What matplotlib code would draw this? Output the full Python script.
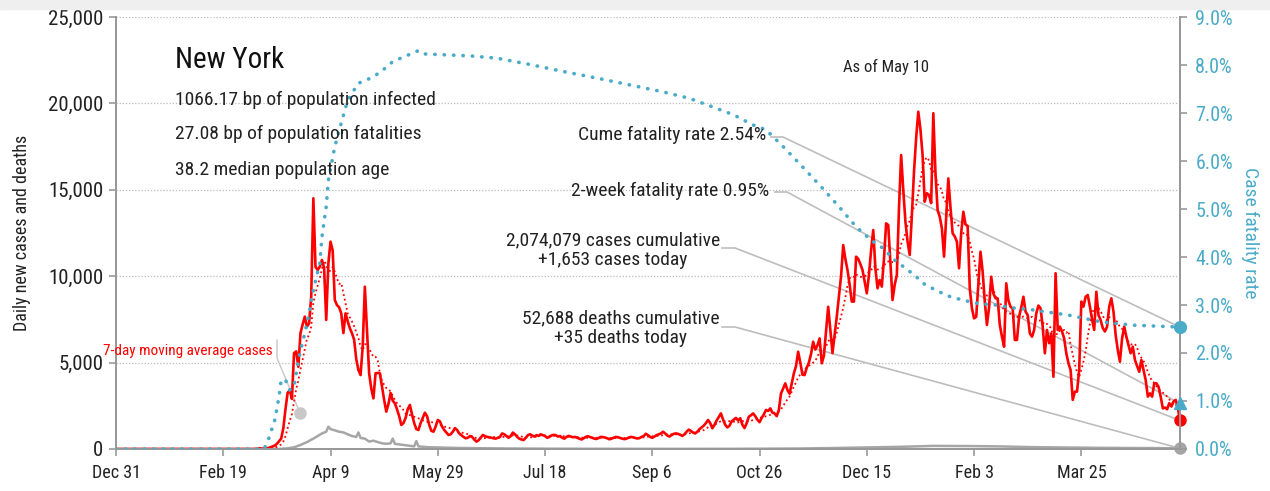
import matplotlib
matplotlib.use("Agg")
import matplotlib.pyplot as plt
import matplotlib.dates as mdates
import numpy as np
import pandas as pd
from matplotlib import font_manager
from matplotlib.patches import Rectangle


def pick_font(names):
    for n in names:
        try:
            font_manager.findfont(font_manager.FontProperties(family=n), fallback_to_default=False)
            return n
        except ValueError:
            pass
    return "DejaVu Sans"


FONT = pick_font(["Liberation Sans Narrow", "Roboto Condensed", "DejaVu Sans"])
plt.rcParams["font.family"] = [FONT, "DejaVu Sans"]

# ---- data ----
start_date = "2019-12-31"
last_date = "2021-05-10"

# daily new cases, Dec 31 2019 .. Feb 29 2020
cases_pre = [0, 0, 0, 0, 0, 0, 0, 0, 0, 0,
             0, 0, 0, 0, 0, 0, 0, 0, 0, 0,
             0, 0, 0, 0, 0, 0, 0, 0, 0, 0,
             0, 0, 0, 0, 0, 0, 0, 0, 0, 0,
             0, 0, 0, 0, 0, 0, 0, 0, 0, 0,
             0, 0, 0, 0, 0, 0, 0, 0, 0, 0,
             0]
cases_mar20 = [0, 0, 1, 0, 9, 11, 44, 13, 36, 40, 60, 100, 150, 200, 300, 450, 600, 1200, 2300, 3250,
               3400, 2900, 5550, 5650, 4760, 6710, 7200, 7660, 7080, 7270, 8810]
cases_apr20 = [14510, 10550, 10360, 10550, 10940, 10500, 7470, 10750, 12000, 11500,
               8620, 8330, 8200, 7850, 6710, 7850, 7400, 6990, 6700, 6330,
               5200, 4570, 4280, 5920, 9390, 6870, 4380, 3500, 2930, 4380]
cases_may20 = [4400, 4380, 3600, 2840, 2160, 2600, 3240, 2800, 2640, 2300,
               1900, 1390, 1500, 1800, 2300, 2550, 2000, 1500, 1150, 1100,
               1500, 1800, 2100, 1900, 1400, 1050, 1000, 1300, 1680, 1600, 1300]
cases_jun20 = [1100, 950, 810, 850, 1000, 1210, 1100, 900, 800, 700,
               620, 650, 750, 700, 550, 430, 500, 650, 810, 750,
               700, 680, 650, 620, 600, 650, 700, 900, 850, 750]
cases_jul20 = [650, 750, 950, 850, 700, 600, 550, 520, 650, 800,
               850, 780, 720, 800, 760, 850, 800, 750, 650, 700,
               780, 820, 800, 720, 750, 650, 600, 700, 760, 720, 680]
cases_aug20 = [700, 650, 600, 550, 620, 700, 740, 690, 650, 600,
               580, 640, 700, 690, 660, 620, 560, 600, 650, 700,
               680, 640, 600, 570, 600, 660, 700, 680, 640, 610, 630]
cases_sep20 = [700, 750, 880, 800, 700, 650, 720, 800, 850, 900,
               1000, 900, 780, 720, 800, 880, 900, 880, 820, 760,
               850, 1000, 1120, 1050, 950, 900, 1000, 1150, 1250, 1350]
cases_oct20 = [1500, 1680, 1500, 1200, 1400, 1650, 1850, 2060, 1700, 1400,
               1250, 1350, 1600, 1700, 1800, 1650, 1780, 1400, 1210, 1500,
               1870, 1950, 2060, 1900, 1700, 1550, 1800, 2000, 2260, 2200, 2350]
cases_nov20 = [2100, 2060, 1900, 2260, 3220, 3500, 3800, 3410, 3200, 3800,
               4380, 4800, 5630, 5000, 4300, 4280, 4700, 5000, 5500, 6210,
               5750, 6000, 6400, 4960, 5400, 6800, 8230, 6900, 5550, 6600]
cases_dec20 = [7660, 8810, 10000, 11800, 11000, 10360, 9500, 8530, 8530, 11130,
               11000, 10700, 10360, 9700, 9010, 10070, 11500, 12670, 10460, 9300,
               9780, 9400, 11000, 13060, 12960, 10840, 8620, 9500, 10070, 13930, 17010]
cases_jan21 = [15000, 13160, 12000, 11230, 13500, 16050, 18000, 19520, 18500, 17010,
               14310, 14800, 14700, 14230, 19430, 16000, 13830, 13440, 12770, 11130,
               13400, 15660, 14000, 12480, 12300, 12000, 10460, 12500, 13730, 13000, 12900]
cases_feb21 = [9300, 8140, 7560, 7650, 9500, 11420, 10270, 8530, 7180, 8200,
               9970, 9000, 8720, 8720, 7180, 6500, 5920, 9590, 8600, 8230,
               8130, 6310, 6310, 7660, 8200, 8810, 7950, 7750]
cases_mar21 = [6690, 6500, 6880, 7850, 8300, 8140, 7080, 5540, 6890, 6120,
               6690, 4180, 10170, 6890, 7080, 6800, 6400, 5540, 4960, 4570,
               2840, 3320, 3320, 4570, 8530, 8240, 8810, 8910, 8240, 7500, 6890]
cases_apr21 = [9100, 7750, 7460, 7000, 6800, 7080, 8240, 8720, 7950, 6600,
               5730, 5050, 6400, 7080, 6500, 6000, 5540, 5920, 5150, 4800,
               4470, 5150, 4570, 3990, 3030, 3220, 3030, 3800, 3800, 3600]
cases_may21 = [3030, 2350, 2400, 2300, 2650, 2460, 2750, 2840, 2360, 1653]

deaths_dates = ["2019-12-31", "2020-03-10", "2020-03-16", "2020-03-20", "2020-03-23", "2020-03-26",
                "2020-03-29", "2020-04-01", "2020-04-03", "2020-04-05", "2020-04-07", "2020-04-08",
                "2020-04-09", "2020-04-11", "2020-04-13", "2020-04-15", "2020-04-17", "2020-04-19",
                "2020-04-21", "2020-04-22", "2020-04-23", "2020-04-25", "2020-04-27", "2020-04-29",
                "2020-05-01", "2020-05-03", "2020-05-05", "2020-05-07", "2020-05-08", "2020-05-09",
                "2020-05-12", "2020-05-15", "2020-05-18", "2020-05-19", "2020-05-20", "2020-05-25",
                "2020-06-01", "2020-06-08", "2020-06-15", "2020-06-22", "2020-07-01", "2020-07-15",
                "2020-08-01", "2020-08-15", "2020-09-01", "2020-09-15", "2020-10-01", "2020-10-15",
                "2020-11-01", "2020-11-15", "2020-12-01", "2020-12-15", "2021-01-01", "2021-01-15",
                "2021-02-01", "2021-02-15", "2021-03-01", "2021-03-15", "2021-04-01", "2021-04-15",
                "2021-05-01", "2021-05-10"]
deaths_vals = [0, 0, 5, 40, 100, 230, 400, 600, 750, 900,
               1000, 1290, 1150, 1080, 1000, 960, 850, 750, 700, 960,
               640, 600, 430, 480, 400, 330, 300, 330, 600, 300,
               250, 200, 150, 460, 150, 100, 80, 60, 50, 40,
               30, 20, 15, 12, 10, 8, 10, 12, 20, 30,
               60, 90, 130, 180, 170, 150, 110, 90, 70, 60,
               50, 35]

cfr_dates = ["2019-12-31", "2020-03-09", "2020-03-11", "2020-03-14", "2020-03-16", "2020-03-17",
             "2020-03-19", "2020-03-21", "2020-03-23", "2020-03-25", "2020-03-28", "2020-03-30",
             "2020-04-01", "2020-04-04", "2020-04-05", "2020-04-07", "2020-04-08", "2020-04-11",
             "2020-04-14", "2020-04-17", "2020-04-22", "2020-04-26", "2020-05-02", "2020-05-08",
             "2020-05-20", "2020-05-23", "2020-06-13", "2020-06-26", "2020-07-11", "2020-07-27",
             "2020-08-12", "2020-08-27", "2020-09-11", "2020-09-23", "2020-10-04", "2020-10-14",
             "2020-10-23", "2020-10-29", "2020-11-06", "2020-11-15", "2020-11-24", "2020-12-02",
             "2020-12-10", "2020-12-17", "2020-12-23", "2020-12-27", "2021-01-01", "2021-01-06",
             "2021-01-11", "2021-01-17", "2021-01-23", "2021-01-29", "2021-02-05", "2021-02-13",
             "2021-02-21", "2021-03-02", "2021-03-19", "2021-04-03", "2021-04-18", "2021-05-10"]
cfr_vals = [0, 0, 0.19, 0.6, 1.09, 1.44, 1.44, 1.23, 1.3, 1.85,
            2.41, 2.83, 3.31, 3.87, 4.42, 5.05, 5.6, 6.3, 6.79, 7.27,
            7.62, 7.69, 7.84, 8.07, 8.3, 8.23, 8.19, 8.14, 8.01, 7.86,
            7.72, 7.58, 7.44, 7.31, 7.13, 6.96, 6.75, 6.65, 6.3, 5.88,
            5.45, 5.05, 4.63, 4.35, 4.17, 3.97, 3.8, 3.63, 3.43, 3.29,
            3.17, 3.1, 3.03, 3.0, 2.94, 2.9, 2.79, 2.65, 2.58, 2.54]
cfr_2week = 0.95

state = "New York"
info_lines = ["1066.17 bp of population infected",
              "27.08 bp of population fatalities",
              "38.2 median population age"]
as_of = "As of May 10"
txt_cume = "Cume fatality rate 2.54%"
txt_2wk = "2-week fatality rate 0.95%"
txt_cases = "2,074,079 cases cumulative\n+1,653 cases today"
txt_deaths = "52,688 deaths cumulative\n+35 deaths today"

# ---- build series ----
cases = (cases_pre + cases_mar20 + cases_apr20 + cases_may20 + cases_jun20 + cases_jul20 + cases_aug20
         + cases_sep20 + cases_oct20 + cases_nov20 + cases_dec20 + cases_jan21 + cases_feb21
         + cases_mar21 + cases_apr21 + cases_may21)
dates = pd.date_range(start_date, periods=len(cases), freq="D")
cases_s = pd.Series(cases, index=dates, dtype=float)
ma7 = cases_s.rolling(7, min_periods=1).mean()
d_dates = pd.to_datetime(deaths_dates)
c_dates = pd.to_datetime(cfr_dates)
end = pd.Timestamp(last_date)

RED = "#ff0000"
BLUE = "#4aabc8"
GREY = "#a6a6a6"
LEAD = "#bdbdbd"
SPINE = "#999999"

fig = plt.figure(figsize=(12.7, 4.91), dpi=100)
fig.patches.append(Rectangle((0, 1 - 9 / 491), 1, 9 / 491, transform=fig.transFigure,
                             color="#efefef", zorder=0))
ax = fig.add_axes([116 / 1270, 1 - 449 / 491, 1064 / 1270, 432 / 491])
ax2 = ax.twinx()

ax.set_xlim(pd.Timestamp(start_date), end)
ax.set_ylim(0, 25000)
ax2.set_ylim(0, 9)


def px(x, y):
    # pixel of the reference -> data coords of the left axis
    x0, x1 = ax.get_xlim()
    return x0 + (x - 116) / 1064 * (x1 - x0), (449 - y) / 432 * 25000


pct = 25000 / 9  # left-axis units per percent on the right axis

# leader lines
leaders = [
    ([px(771, 137), px(783, 137)], cfr_vals[-1] * pct),
    ([px(775, 192), px(787, 192)], cfr_2week * pct),
    ([px(722, 248), px(735, 248)], cases[-1]),
    ([px(722, 327), px(735, 327)], deaths_vals[-1]),
]
for pts, yend in leaders:
    xs = [p[0] for p in pts] + [mdates.date2num(end)]
    ys = [p[1] for p in pts] + [yend]
    ax.plot(xs, ys, color=LEAD, lw=1.2, zorder=1, clip_on=False)

ma_pts = [px(277, 340), px(277, 358), px(300, 413)]
ax.plot([p[0] for p in ma_pts], [p[1] for p in ma_pts], color="#c8c8c8", lw=1.0, zorder=1)
ax.plot(ma_pts[-1][0], ma_pts[-1][1], "o", color="#c8c8c8", ms=8, zorder=1)

# data
ax.plot(d_dates, deaths_vals, color=GREY, lw=1.8, zorder=2)
ax.plot(ma7.index, ma7.values, color=RED, lw=1.3, ls=(0, (1, 1.6)), zorder=3)
ax.plot(cases_s.index, cases_s.values, color=RED, lw=1.9, zorder=4)
ax.plot(end, cases[-1], "o", color=RED, ms=8, zorder=5, clip_on=False)
ax.plot(end, deaths_vals[-1], "o", color=GREY, ms=8, zorder=5, clip_on=False)

ax2.plot(c_dates, cfr_vals, color=BLUE, lw=2.6, ls=(0, (0.1, 2.5)), dash_capstyle="round", zorder=3)
ax2.plot(end, cfr_vals[-1], "o", color=BLUE, ms=8.5, clip_on=False, zorder=5)
ax2.plot(end, cfr_2week, "^", color=BLUE, ms=9, clip_on=False, zorder=5)

# axes styling
ax.set_yticks(np.arange(0, 25001, 5000))
ax.yaxis.set_major_formatter(matplotlib.ticker.FuncFormatter(lambda v, p: f"{int(v):,}"))
ax.set_xticks(pd.date_range(start_date, end, freq="50D"))
ax.xaxis.set_major_formatter(mdates.DateFormatter("%b %-d"))
for gy in range(5000, 25001, 5000):
    ax.axhline(gy, color="#bbbbbb", lw=0.9, ls=(0, (1, 1.5)), zorder=0)

for a in (ax, ax2):
    a.spines["top"].set_visible(False)
    for s in ("left", "right", "bottom"):
        a.spines[s].set_color(SPINE)
        a.spines[s].set_linewidth(1.4)
ax.tick_params(axis="both", colors=SPINE, length=5, width=1.2)
ax.tick_params(axis="y", labelcolor="#222222", labelsize=15, pad=4)
ax.tick_params(axis="x", labelcolor="#222222", labelsize=13, pad=6)
ax2.set_yticks(np.arange(0, 9.01, 1))
ax2.yaxis.set_major_formatter(matplotlib.ticker.FuncFormatter(lambda v, p: f"{v:.1f}%"))
ax2.tick_params(axis="y", colors=SPINE, labelcolor=BLUE, labelsize=14.5, length=5, width=1.2, pad=6)

# texts
def fx(x):
    return x / 1270


def fy(y):
    return 1 - y / 491


fig.text(fx(175), fy(60), state, fontsize=21, va="center", ha="left", color="#111111")
for yy, line in zip([100, 134, 170], info_lines):
    fig.text(fx(175), fy(yy), line, fontsize=14, va="center", ha="left", color="#222222")
fig.text(fx(886), fy(67), as_of, fontsize=12, va="center", ha="center", color="#222222")
fig.text(fx(766), fy(135), txt_cume, fontsize=14, va="center", ha="right", color="#222222")
fig.text(fx(769), fy(191), txt_2wk, fontsize=14, va="center", ha="right", color="#222222")
fig.text(fx(613), fy(250), txt_cases, fontsize=14, va="center", ha="center",
         multialignment="center", linespacing=1.15, color="#222222")
fig.text(fx(621), fy(328), txt_deaths, fontsize=14, va="center", ha="center",
         multialignment="center", linespacing=1.15, color="#222222")
fig.text(fx(103), fy(351), "7-day moving average cases", fontsize=11, va="center", ha="left", color=RED)
fig.text(fx(22), fy(233), "Daily new cases and deaths", fontsize=13, rotation=90,
         va="center", ha="center", color="#222222")
fig.text(fx(1250), fy(233), "Case fatality rate", fontsize=14, rotation=270,
         va="center", ha="center", color=BLUE)

fig.savefig("out.png", dpi=100)
